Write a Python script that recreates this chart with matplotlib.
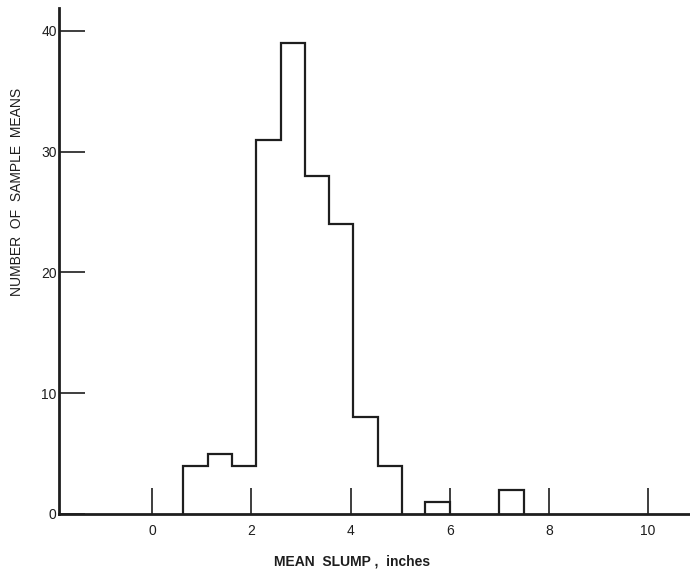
import matplotlib.pyplot as plt

plt.rcParams["font.family"] = ["Liberation Sans", "DejaVu Sans"]

# main contiguous group of bins (inches) and counts
main_edges = [0.63, 1.12, 1.61, 2.10, 2.59, 3.08, 3.57, 4.06, 4.55, 5.04]
main_counts = [4, 5, 4, 31, 39, 28, 24, 8, 4]

# isolated bins further right
extra_edges = [[5.5, 6.0], [7.0, 7.5]]
extra_counts = [[1], [2]]

x_ticks = [0, 2, 4, 6, 8, 10]
y_ticks = [0, 10, 20, 30, 40]

ink = "#1e1e1e"

fig = plt.figure(figsize=(6.9, 5.73), dpi=100)
ax = fig.add_axes([0.0862, 0.103, 0.914, 0.883])

ax.stairs(main_counts, main_edges, color=ink, linewidth=1.6, baseline=0)
for e, c in zip(extra_edges, extra_counts):
    ax.stairs(c, e, color=ink, linewidth=1.6, baseline=0)

ax.set_xlim(-1.87, 10.85)
ax.set_ylim(0, 41.9)

for side in ("top", "right"):
    ax.spines[side].set_visible(False)
for side in ("left", "bottom"):
    ax.spines[side].set_linewidth(2.0)
    ax.spines[side].set_color(ink)

ax.set_xticks(x_ticks)
ax.set_yticks(y_ticks)
ax.tick_params(axis="x", direction="in", length=19, width=1.2, pad=7,
               labelsize=10, colors=ink)
ax.tick_params(axis="y", direction="in", length=19, width=1.2, pad=2,
               labelsize=10, colors=ink)

fig.text(352 / 690, 1 - 562 / 573, "MEAN  SLUMP ,  inches", ha="center",
         va="center", fontsize=10, color=ink, fontweight="semibold")
fig.text(17 / 690, 1 - 192 / 573, "NUMBER  OF  SAMPLE  MEANS", ha="center",
         va="center", rotation=90, fontsize=10, color=ink)

fig.savefig("out.png", dpi=100, facecolor="white")
